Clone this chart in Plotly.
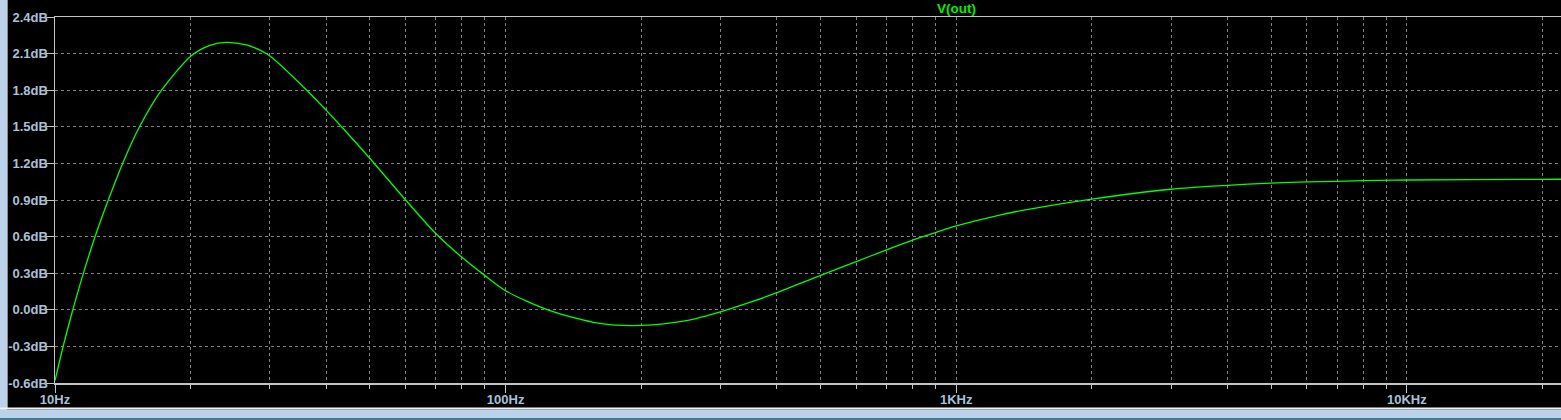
import plotly.graph_objects as go

# ---- data ----
freq_hz = [10, 10.43, 10.95, 11.56, 12.27, 13.13, 14.13, 15.38, 17.25, 20.1, 22.07,
           24.0, 26.6, 28.5, 30, 36.2, 40, 43.5, 50, 60, 70, 80, 90, 100,
           124, 162, 200, 252, 301, 348, 400, 502, 600, 705, 801, 903, 1000, 1248, 1500,
           2000, 3000, 4000, 5000, 6000, 8000, 10000, 20000, 22000]
vout_db = [-0.58, -0.297, -0.002, 0.299, 0.599, 0.900, 1.200, 1.496, 1.802, 2.085, 2.168,
           2.192, 2.171, 2.128, 2.080, 1.80, 1.635, 1.49, 1.24, 0.90, 0.625, 0.43, 0.28, 0.156,
           0.0, -0.111, -0.128, -0.089, -0.015, 0.060, 0.140, 0.285, 0.394, 0.496, 0.572, 0.635, 0.687, 0.777, 0.834,
           0.908, 0.988, 1.020, 1.039, 1.048, 1.058, 1.064, 1.069, 1.070]

y_tick_vals = [-0.6, -0.3, 0.0, 0.3, 0.6, 0.9, 1.2, 1.5, 1.8, 2.1, 2.4]
y_tick_text = ["-0.6dB", "-0.3dB", "0.0dB", "0.3dB", "0.6dB", "0.9dB", "1.2dB",
               "1.5dB", "1.8dB", "2.1dB", "2.4dB"]
x_tick_vals = [10, 100, 1000, 10000]
x_tick_text = ["10Hz", "100Hz", "1KHz", "10KHz"]
x_minor_vals = [m * d for d in (10, 100, 1000, 10000) for m in range(2, 10)]
trace_name = "V(out)"

# ---- styling ----
W, H = 1561, 420
ML, MT, MB, MR = 55, 17, 37, 0
PW, PH = W - ML - MR, H - MT - MB
LABEL = "#abc0d6"
AXIS = "#c4c4c4"
GRID = "#808080"
FONT = "Liberation Sans, Arial, sans-serif"
FS = 13


def px(x):
    return (x - ML) / PW


def py(y):
    return (H - MB - y) / PH


fig = go.Figure()
fig.add_trace(go.Scatter(x=freq_hz, y=vout_db, mode="lines", name=trace_name,
                         line=dict(color="#00ff00", width=1.3, shape="spline", smoothing=0.8),
                         hoverinfo="skip"))

fig.update_layout(
    width=W, height=H,
    margin=dict(l=ML, r=MR, t=MT, b=MB, pad=0, autoexpand=False),
    paper_bgcolor="#000000", plot_bgcolor="#000000",
    showlegend=False,
    font=dict(family=FONT, size=FS, color=LABEL),
    xaxis=dict(
        type="log", range=[1, 1 + PW / 450.6],
        tickmode="array", tickvals=x_tick_vals, ticktext=x_tick_text,
        ticks="outside", ticklen=8, tickwidth=1, tickcolor=AXIS,
        ticklabelstandoff=-4,
        tickfont=dict(family=FONT, size=FS, color=LABEL, weight="bold"),
        showgrid=True, gridcolor=GRID, gridwidth=1, griddash="3px,3px",
        minor=dict(tickmode="array", tickvals=x_minor_vals, ticks="outside", ticklen=4,
                   tickcolor=AXIS, tickwidth=1, showgrid=True, gridcolor=GRID,
                   gridwidth=1, griddash="3px,3px"),
        showline=True, linecolor=AXIS, linewidth=1.5, mirror=True,
        zeroline=False, fixedrange=True,
    ),
    yaxis=dict(
        range=[-0.6, 2.4],
        tickmode="array", tickvals=y_tick_vals, ticktext=y_tick_text,
        ticks="outside", ticklen=8, tickwidth=1, tickcolor=AXIS,
        ticklabelstandoff=-5,
        tickfont=dict(family=FONT, size=FS, color=LABEL, weight="bold"),
        showgrid=True, gridcolor=GRID, gridwidth=1, griddash="3px,3px",
        showline=True, linecolor=AXIS, linewidth=1.5, mirror=False,
        zeroline=False, fixedrange=True,
    ),
    annotations=[dict(
        text=trace_name, xref="paper", yref="paper", x=px(956), y=1,
        xanchor="center", yanchor="middle", yshift=9, showarrow=False,
        font=dict(family=FONT, size=13.5, color="#00f000", weight="bold"),
    )],
    shapes=[
        # left window strip
        dict(type="rect", xref="paper", yref="paper", x0=px(0), x1=px(7), y0=py(410), y1=py(0),
             fillcolor="#bcd2ea", line=dict(width=0), layer="above"),
        dict(type="line", xref="paper", yref="paper", x0=px(7.5), x1=px(7.5), y0=py(409), y1=py(0),
             line=dict(color="#8a8a8a", width=1), layer="above"),
        # bottom window strip
        dict(type="rect", xref="paper", yref="paper", x0=px(0), x1=px(W), y0=py(409.5), y1=py(407.5),
             fillcolor="#f4f4f4", line=dict(width=0), layer="above"),
        dict(type="rect", xref="paper", yref="paper", x0=px(0), x1=px(W), y0=py(418), y1=py(409.5),
             fillcolor="#bcd2ea", line=dict(width=0), layer="above"),
        dict(type="rect", xref="paper", yref="paper", x0=px(0), x1=px(W), y0=py(420), y1=py(418),
             fillcolor="#3d7f8c", line=dict(width=0), layer="above"),
    ],
)

fig.write_html(
    "out.html",
    config={"displayModeBar": False, "staticPlot": True},
    post_script="document.body.style.margin='0';document.body.style.overflow='hidden';",
)
